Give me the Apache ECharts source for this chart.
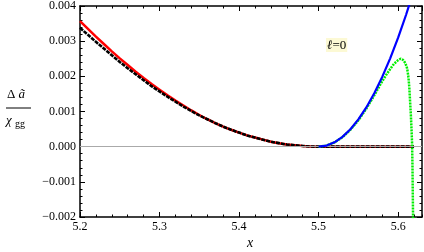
<!DOCTYPE html>
<html>
<head>
<meta charset="utf-8">
<script src="https://cdn.jsdelivr.net/npm/echarts@6/dist/echarts.min.js"></script>
<style>html,body{margin:0;padding:0;background:#fff;}#c{width:424px;height:252px;}</style>
</head>
<body>
<div id="c"></div>
<script>
// x grid for the red / black curves
var xs = [5.20,5.21,5.22,5.23,5.24,5.25,5.26,5.27,5.28,5.29,5.30,5.31,5.32,5.33,5.34,5.35,5.36,5.37,5.38,5.39,5.40,5.41,5.42,5.43,5.44,5.45,5.46,5.47,5.48,5.49,5.50,5.51,5.52,5.53,5.54,5.55,5.56,5.57,5.58,5.59,5.60,5.61,5.62];
var blackY = [0.00338,0.00318,0.00298,0.00279,0.00260,0.00241,0.00223,0.00206,0.00189,0.00172,0.00157,0.00142,0.00128,0.00114,0.00101,0.00089,0.00078,0.00067,0.00057,0.00048,0.00040,0.00032,0.00026,0.00020,0.00014,0.00010,0.00006,0.00004,0.00002,0.000004,0,0,0,0,0,0,0,0,0,0,0,0,0];
var redY = [0.00357,0.00335,0.00313,0.00292,0.00271,0.00251,0.00232,0.00213,0.00195,0.00178,0.00162,0.00146,0.00131,0.00117,0.00103,0.00090,0.00078,0.00067,0.00057,0.00048,0.00040,0.00032,0.00026,0.00020,0.00014,0.00010,0.00006,0.00004,0.00002,0.000004,0,0,0,0,0,0,0,0,0,0,0,0,0];
// blue curve
var blueX = [5.50,5.51,5.52,5.53,5.54,5.55,5.56,5.57,5.58,5.59,5.60,5.61,5.62];
var blueY = [0,0.000031,0.000124,0.000279,0.000496,0.000775,0.001116,0.001519,0.001984,0.002511,0.0031,0.003751,0.004464];
// green curve
var greenX = [5.50,5.51,5.52,5.53,5.54,5.55,5.56,5.57,5.575,5.58,5.585,5.59,5.595,5.60,5.603,5.606,5.609,5.611,5.612,5.613,5.614,5.615,5.616,5.617,5.6175,5.618,5.6185,5.619];
var greenY = [0,0.00003,0.00012,0.00027,0.00048,0.00075,0.00108,0.00146,0.00166,0.00186,0.00204,0.00221,0.00236,0.00246,0.0025,0.00247,0.00238,0.00225,0.00213,0.00196,0.0017,0.0013,0.0009,0.0004,0.0001,-0.0005,-0.0015,-0.0025];
var xTickLabels = ['5.2','5.3','5.4','5.5','5.6'];
var yTickLabels = ['\u22120.002','\u22120.001','0.000','0.001','0.002','0.003','0.004'];

function pairs(a, b) { return a.map(function (v, i) { return [v, b[i]]; }); }

var FONT = '"Liberation Serif", "Times New Roman", serif';
var XMIN = 5.2, XMAX = 5.63, YMIN = -0.002, YMAX = 0.004;

function xAx(pos, major, showLabel) {
  return {
    type: 'value', position: pos, min: XMIN, max: XMAX,
    interval: major ? 0.1 : 0.02,
    axisLine: { show: major, onZero: false, lineStyle: { color: '#000', width: 1.5 } },
    axisTick: { show: true, inside: true, length: major ? 5 : 2.5, lineStyle: { color: '#000', width: 1 } },
    axisLabel: {
      show: showLabel, margin: 4, color: '#000', fontFamily: FONT, fontSize: 12, showMaxLabel: false,
      formatter: function (v) { var i = Math.round((v - XMIN) / 0.1); return xTickLabels[i] || ''; }
    },
    splitLine: { show: false }
  };
}
function yAx(pos, showLabel) {
  return {
    type: 'value', position: pos, min: YMIN, max: YMAX, interval: 0.001,
    axisLine: { show: true, onZero: false, lineStyle: { color: '#000', width: 1.5 } },
    axisTick: { show: true, inside: true, length: 5, lineStyle: { color: '#000', width: 1 } },
    minorTick: { show: true, splitNumber: 5, length: 2.5, lineStyle: { color: '#000', width: 1 } },
    axisLabel: {
      show: showLabel, margin: 4, color: '#000', fontFamily: FONT, fontSize: 12,
      formatter: function (v) { var i = Math.round((v - YMIN) / 0.001); return yTickLabels[i] || ''; }
    },
    splitLine: { show: false }
  };
}

var chart = echarts.init(document.getElementById('c'), null, { renderer: 'canvas' });
chart.setOption({
  animation: false,
  backgroundColor: '#fff',
  grid: { left: 80, right: 2, top: 6, bottom: 35, containLabel: false },
  xAxis: [xAx('bottom', true, true), xAx('bottom', false, false), xAx('top', true, false), xAx('top', false, false)],
  yAxis: [yAx('left', true), yAx('right', false)],
  series: [
    {
      type: 'line', data: [], z: 1, silent: true,
      markLine: { silent: true, symbol: 'none', label: { show: false },
        lineStyle: { color: '#aaaaaa', width: 1, type: 'solid' }, data: [{ yAxis: 0 }] }
    },
    { type: 'line', data: pairs(xs, redY), showSymbol: false, z: 2,
      lineStyle: { color: '#ff0000', width: 2.5 } },
    { type: 'line', data: pairs(xs, blackY), showSymbol: false, z: 3,
      lineStyle: { color: '#000000', width: 2.6, type: [4, 1] } },
    { type: 'line', data: pairs(greenX, greenY), showSymbol: false, z: 4,
      lineStyle: { color: '#00ee00', width: 2.5, type: [2, 1] } },
    { type: 'line', data: pairs(blueX, blueY), showSymbol: false, z: 5,
      lineStyle: { color: '#0000ff', width: 2.2 } }
  ],
  graphic: [
    { type: 'text', left: 7, top: 88, style: { text: '{a|\u0394 }{b|\u00e3}', rich: {
        a: { fontFamily: FONT, fontSize: 13, fill: '#000' },
        b: { fontFamily: FONT, fontSize: 13, fontStyle: 'italic', fill: '#000' } } } },
    { type: 'line', shape: { x1: 6, y1: 108, x2: 31, y2: 108 }, style: { stroke: '#000', lineWidth: 1 } },
    { type: 'text', left: 6, top: 114, style: { text: '\u03c7', fontFamily: FONT, fontSize: 13, fontStyle: 'italic', fill: '#000' } },
    { type: 'text', left: 15, top: 119, style: { text: 'gg', fontFamily: FONT, fontSize: 10, fill: '#000' } },
    { type: 'text', left: 247, top: 236, style: { text: 'x', fontFamily: FONT, fontSize: 14, fontStyle: 'italic', fill: '#000' } },
    { type: 'text', left: 326, top: 38, style: { text: '{l|\u2113}{e|=0}', backgroundColor: '#fcf9d4', padding: [1, 1, 0, 1], rich: {
        l: { fontFamily: FONT, fontSize: 13, fontStyle: 'italic', fill: '#000' },
        e: { fontFamily: FONT, fontSize: 13, fill: '#000' } } } }
  ]
});
</script>
</body>
</html>
